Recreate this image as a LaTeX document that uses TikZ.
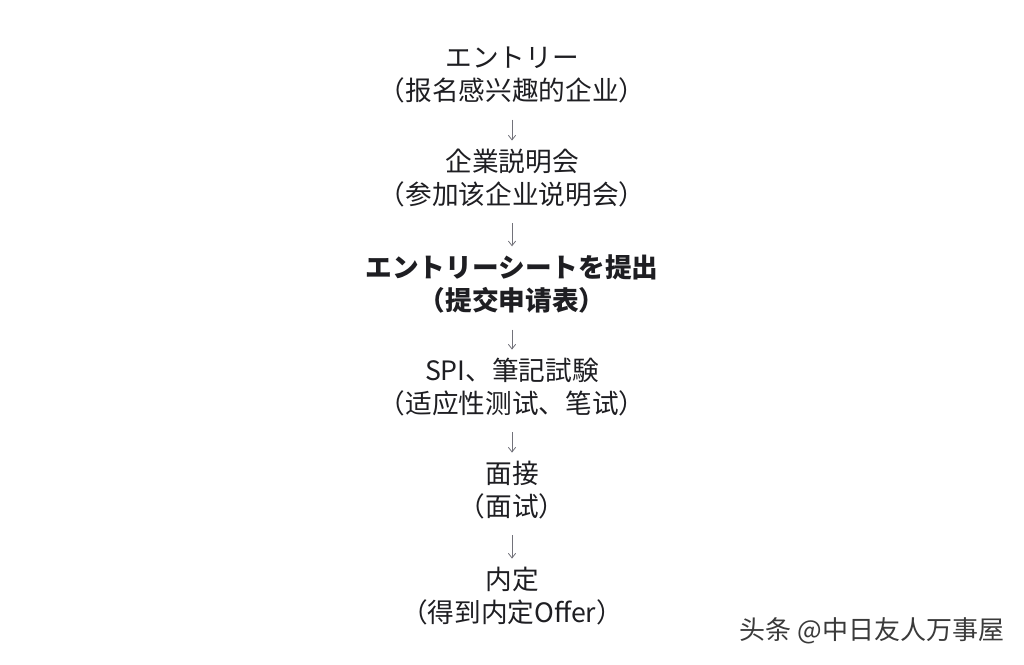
\documentclass[tikz,border=0pt]{standalone}
\usepackage{fontspec}
\setmainfont{Noto Sans CJK SC}
\newfontfamily\jp{Noto Sans CJK JP}
\usetikzlibrary{arrows.meta}
\definecolor{ink}{HTML}{1E1E22}
\definecolor{arrowgray}{HTML}{72727A}
\definecolor{markgray}{HTML}{3A3A3A}

\begin{document}
\begin{tikzpicture}[x=0.75pt,y=-0.75pt,
  stage/.style={align=center,inner sep=0pt,text=ink,font=\fontsize{20}{25}\selectfont},
  flow/.style={draw=arrowgray,line width=0.6pt,-{Straight Barb[length=3.5pt,width=5.5pt]},
    shorten <=12pt,shorten >=6pt}]

  \useasboundingbox (0,0) rectangle (1024,664);

  \node[stage] (1) at (512,75) {{\jp エントリー}\\（报名感兴趣的企业）};
  \node[stage] (2) at (512,178) {{\jp 企業説明会}\\（参加该企业说明会）};
  \node[stage,font=\fontsize{20}{25}\selectfont\bfseries] (3) at (512,284)
    {{\jp エントリーシートを提出}\\（提交申请表）};
  \node[stage] (4) at (512,387) {{\jp SPI、筆記試験}\\（适应性测试、笔试）};
  \node[stage] (5) at (512,490) {{\jp 面接}\\（面试）};
  \node[stage] (6) at (512,596) {{\jp 内定}\\（得到内定Offer）};

  \path[flow]
   (1) edge (2)
   (2) edge (3)
   (3) edge (4)
   (4) edge (5)
   (5) edge (6);

  % watermark
  \node[text=markgray,font=\fontsize{19.5}{21}\selectfont] (mark) at (872,631) {头条 @中日友人万事屋};
\end{tikzpicture}
\end{document}
